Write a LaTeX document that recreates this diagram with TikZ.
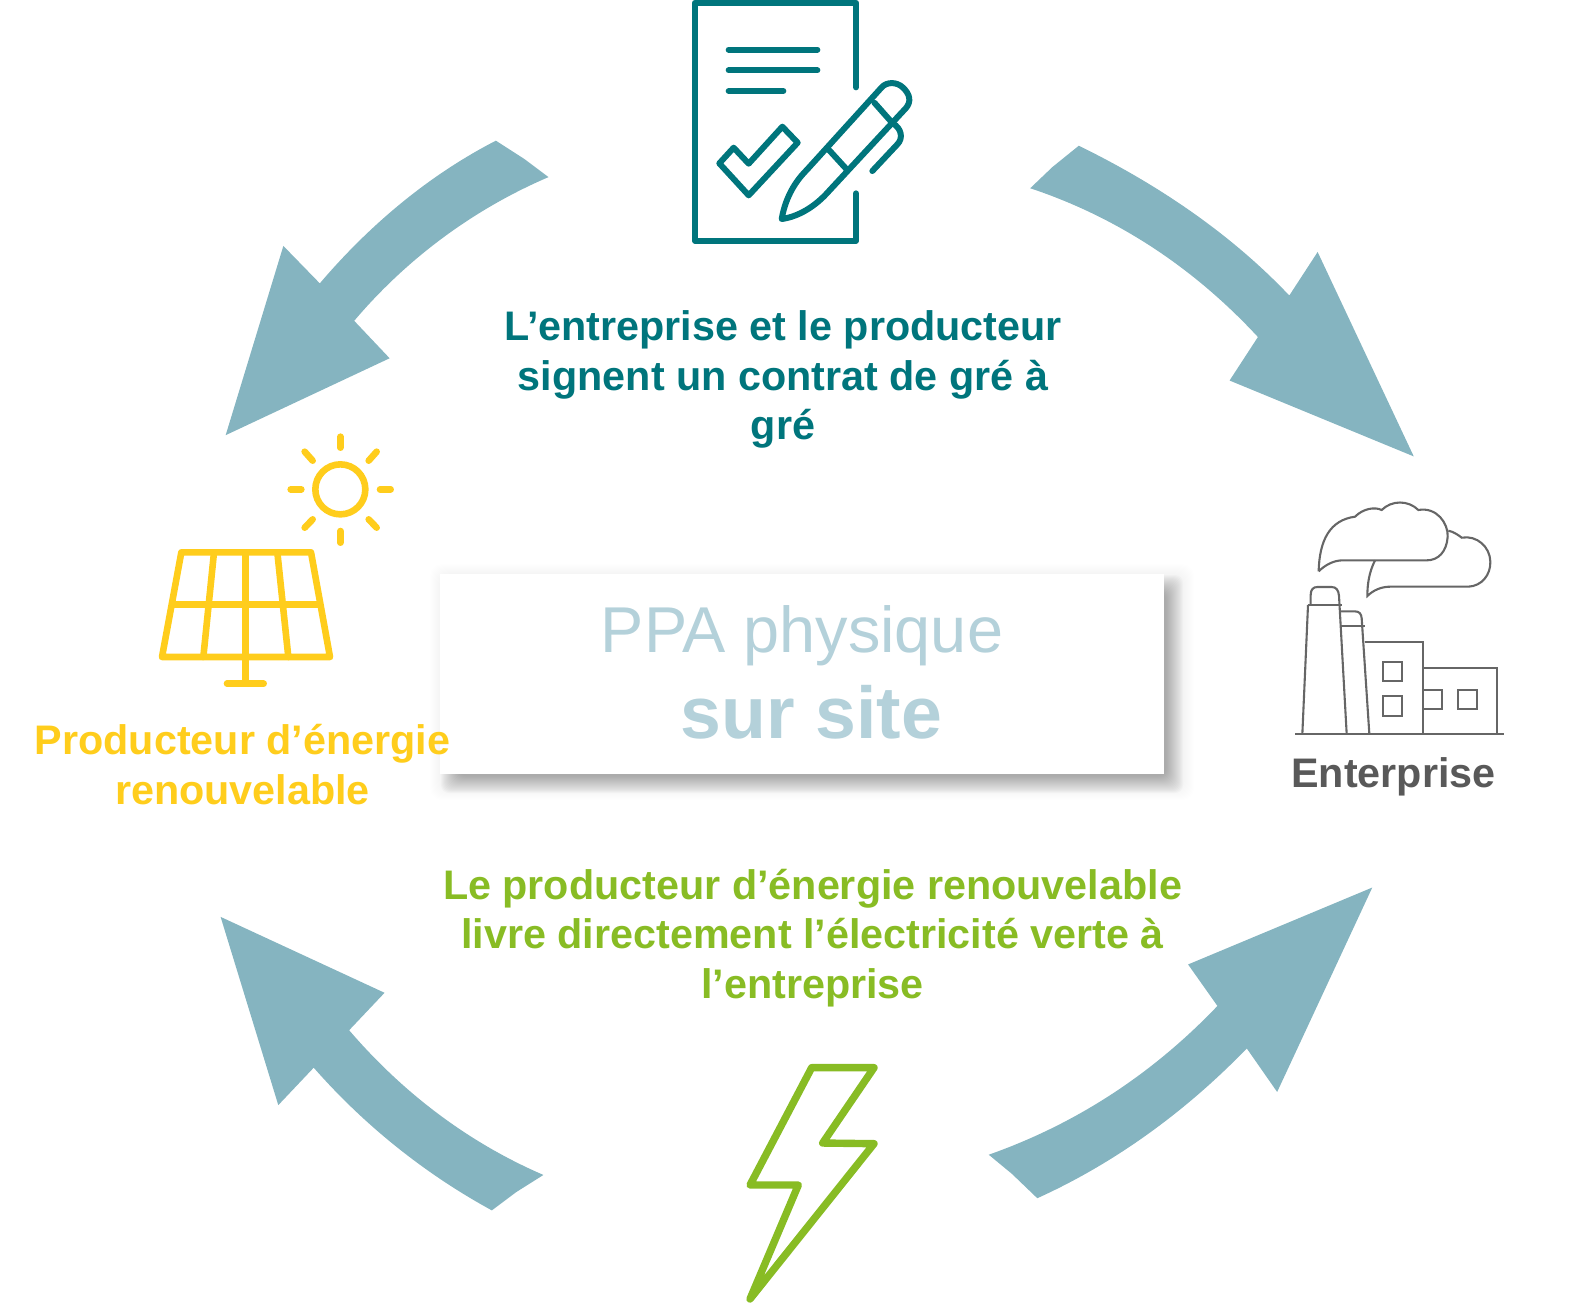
\documentclass[tikz,border=0pt]{standalone}
\usepackage{fontspec}
\setmainfont{Liberation Sans}
\definecolor{teal1}{HTML}{00757C}
\definecolor{sunY}{HTML}{FFCD1C}
\definecolor{boltG}{HTML}{88BC24}
\definecolor{greyT}{HTML}{595959}
\definecolor{fact}{HTML}{666666}
\definecolor{arrowC}{HTML}{85B4C0}
\definecolor{ppaC}{HTML}{B4D1DA}
\tikzset{
  fatarrow/.style={fill=arrowC,draw=none},
  tealline/.style={draw=teal1,line width=3pt,line cap=round,line join=round},
  sunline/.style={draw=sunY,line width=3.3pt,line cap=round,line join=round},
  boltline/.style={draw=boltG,line width=3.7pt,line cap=round,line join=round},
  factline/.style={draw=fact,line width=1.05pt,line join=miter},
  lbl/.style={align=center,font=\fontsize{20.65}{24.9}\selectfont\bfseries,inner sep=0pt},
}
\begin{document}
\begin{tikzpicture}[x=.5pt,y=-.5pt]
\useasboundingbox (0,0) rectangle (1588,1303);
% arrows (coordinates as displayed at 1/1.012)
\begin{scope}[x=.506pt,y=-.506pt]
\path[fatarrow] (490,139) .. controls (420,175) and (362,226) .. (316,280) -- (280,243) -- (223,430) -- (385,354) -- (350,317) .. controls (400,258) and (465,208) .. (542,175) -- (518,157) -- cycle;
\path[fatarrow] (1066,144) .. controls (1150,185) and (1220,235) .. (1274,292) -- (1302,249) -- (1397,451) -- (1215,376) -- (1243,333) .. controls (1180,265) and (1105,215) .. (1018,186) -- (1040,165) -- cycle;
\path[fatarrow] (977,1141) .. controls (1065,1110) and (1140,1060) .. (1203,994) -- (1174,953) -- (1356,877) -- (1262,1079) -- (1232,1036) .. controls (1170,1100) and (1100,1150) .. (1025,1184) -- (1000,1160) -- cycle;
\path[fatarrow] (537,1161) .. controls (465,1130) and (400,1082) .. (345,1018) -- (380,981) -- (218,906) -- (275,1092) -- (310,1055) .. controls (360,1112) and (420,1160) .. (486,1196) -- (510,1178) -- cycle;
\end{scope}
% central box
\foreach \i in {0,...,9}{
  \fill[black,opacity=.003,rounded corners=6pt] (430+\i,564+\i) rectangle (1194-\i,800-\i);
}
\foreach \i in {0,...,17}{
  \fill[black,opacity=.021,rounded corners=4pt] (441+\i,575+\i) rectangle (1183-\i,793-\i);
}
\fill[white] (440,574) rectangle (1164,774);
\node[font=\fontsize{32.4}{38}\selectfont,text=ppaC,inner sep=0pt] (ppa) at (802,636) {PPA physique};
\node[font=\fontsize{36.7}{42}\selectfont\bfseries,text=ppaC,inner sep=0pt] (site) at (811.5,712.5) {sur site};
% texts
\node[lbl,text=teal1] (t1) at (783,379.5) {L’entreprise et le producteur\\signent un contrat de gré à\\gré};
\node[lbl,text=boltG] (t2) at (812.5,938) {Le producteur d’énergie renouvelable\\livre directement l’électricité verte à\\l’entreprise};
\node[lbl,text=sunY] (t3) at (242.5,764.5) {Producteur d’énergie\\renouvelable};
\node[lbl,text=greyT] (t4) at (1393.5,777) {Enterprise};
% document icon (zoom 1 coordinates)
\begin{scope}[shift={(660,0)},x=.16667pt,y=-.16667pt]
\draw[tealline] (588,262) -- (588,8) -- (105,8) -- (105,722) -- (588,722) -- (588,580);
\draw[tealline] (206,149) -- (472,149);
\draw[tealline] (206,211) -- (472,211);
\draw[tealline] (206,273) -- (370,273);
\draw[tealline] (178,490) -- (221,443) -- (266,491) -- (367,380) -- (413,428) -- (266,586) -- cycle;
% pen
\draw[tealline] (365,657) .. controls (375,600) and (400,550) .. (440,510) -- (665,262) .. controls (680,245) and (710,245) .. (728,262) .. controls (750,282) and (755,305) .. (737,325) -- (505,575) .. controls (465,620) and (415,650) .. (365,657) -- cycle;
\draw[tealline] (643,308) -- (698,370);
\draw[tealline] (507,450) -- (560,508);
\draw[tealline] (698,370) .. controls (725,385) and (730,415) .. (712,433) -- (637,513);
\end{scope}
% sun and panel (zoom 3 coordinates)
\begin{scope}[shift={(140,420)},x=.16667pt,y=-.16667pt]
\draw[sunline] (601,208) circle (75);
\draw[sunline] (601,50) -- (601,83);
\draw[sunline] (601,333) -- (601,368);
\draw[sunline] (452,208) -- (484,208);
\draw[sunline] (720,208) -- (752,208);
\draw[sunline] (494,95) -- (518,122);
\draw[sunline] (710,95) -- (686,122);
\draw[sunline] (494,323) -- (518,298);
\draw[sunline] (710,323) -- (686,298);
\draw[sunline] (124,397) -- (513,397) -- (570,711) -- (66,711) -- cycle;
\draw[sunline] (99,554) -- (538,554);
\draw[sunline] (222,397) -- (190,711);
\draw[sunline] (412,397) -- (445,711);
\draw[sunline] (317,397) -- (317,790);
\draw[sunline] (261,791) -- (371,791);
\end{scope}
% factory (zoom 2 coordinates)
\begin{scope}[shift={(1280,490)},x=.16667pt,y=-.16667pt]
\draw[factline] (45,732) -- (672,732);
\draw[factline] (67,732) -- (84,345);
\draw[factline] (84,345) -- (186,345);
\draw[factline] (92,345) -- (92,315) .. controls (92,298) and (100,291) .. (112,291) -- (155,291) .. controls (168,291) and (176,300) .. (177,318) -- (200,732);
\draw[factline] (179,364) -- (225,364) .. controls (238,364) and (244,372) .. (245,385) -- (268,732);
\draw[factline] (183,407) -- (256,407);
\draw[factline] (254,457) -- (428,457) -- (428,732);
\draw[factline] (428,534) -- (650,534) -- (650,732);
\draw[factline] (310,516) rectangle (367,574);
\draw[factline] (310,619) rectangle (367,677);
\draw[factline] (428,599) -- (486,599) -- (486,657) -- (428,657);
\draw[factline] (534,599) rectangle (592,657);
\draw[factline] (116,244) .. controls (118,150) and (150,90) .. (225,80) .. controls (250,55) and (285,50) .. (305,60) .. controls (335,30) and (385,30) .. (415,60) .. controls (470,50) and (505,100) .. (503,140) .. controls (500,185) and (475,211) .. (440,211) -- (185,211) .. controls (160,212) and (135,225) .. (116,244);
\draw[factline] (285,211) .. controls (268,245) and (262,280) .. (262,318) .. controls (280,300) and (305,290) .. (330,290) -- (565,290) .. controls (605,288) and (632,255) .. (631,215) .. controls (630,170) and (590,135) .. (545,143) .. controls (535,135) and (520,125) .. (505,122);
\end{scope}
% bolt (zoom 5 coordinates)
\begin{scope}[shift={(720,1050)},x=.16667pt,y=-.16667pt]
\draw[boltline] (275,53) -- (462,53) -- (308,279) -- (462,281) -- (90,747) -- (235,405) -- (90,405) -- cycle;
\end{scope}
\end{tikzpicture}
\end{document}
